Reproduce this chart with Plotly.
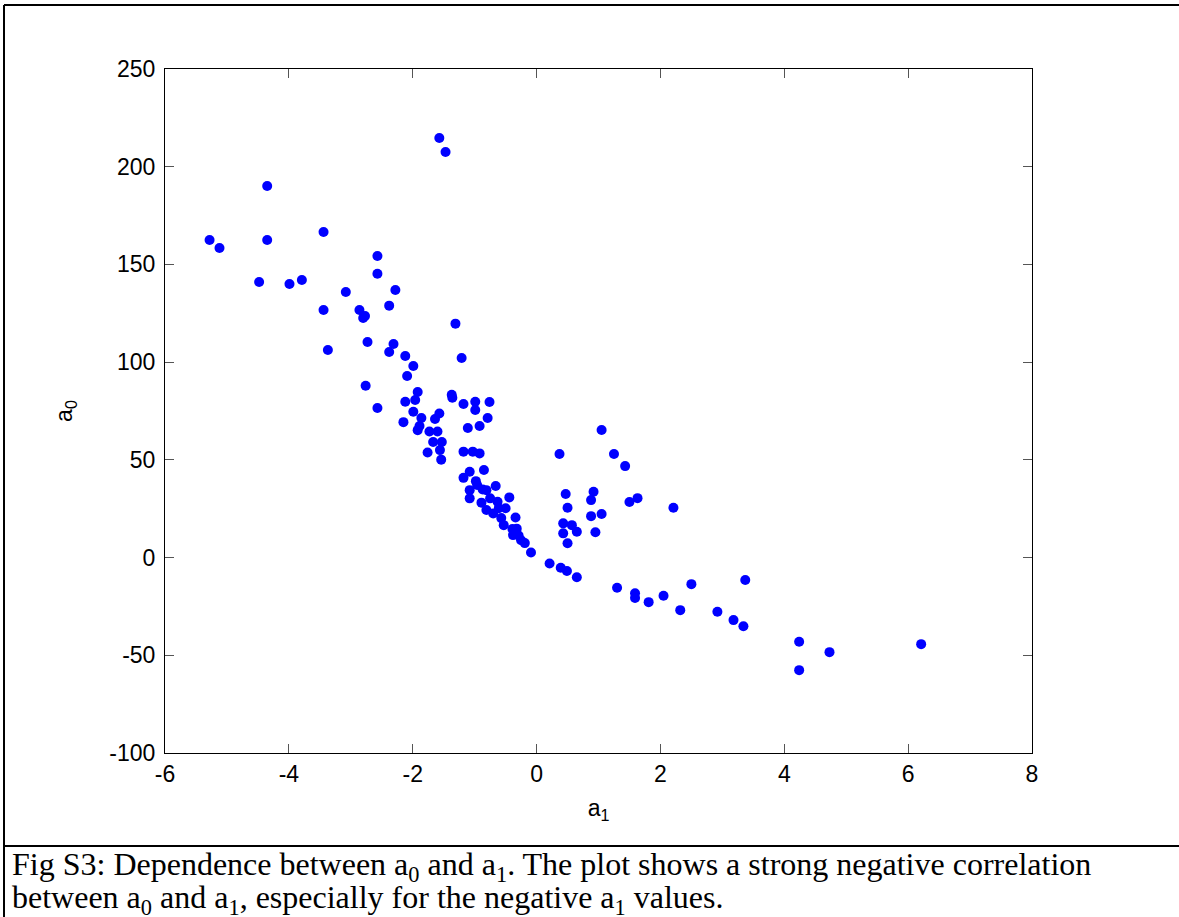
import plotly.graph_objects as go

# a1 (x) and a0 (y) values
a1 = [-5.28, -5.12, -4.35, -4.35, -4.48, -3.99, -3.79, -3.44, -3.44, -3.37,
      -3.08, -2.86, -2.77, -2.80, -2.73, -2.76, -2.57, -2.57, -2.57, -2.38,
      -2.28, -2.31, -2.38, -2.12, -1.99, -2.09, -1.92, -1.96, -2.12, -1.99,
      -2.15, -1.86, -1.89, -1.92, -1.73, -1.60, -1.57, -1.64, -1.67, -1.53,
      -1.56, -1.76, -1.54, -1.57, -1.47, -1.31, -1.21, -1.37, -1.36, -1.18,
      -0.99, -0.76, -0.99, -0.79, -1.11, -0.92, -1.18, -1.03, -0.92, -0.85,
      -1.08, -1.18, -0.98, -0.96, -0.66, -1.08, -0.87, -0.81, -1.08, -0.89,
      -0.75, -0.63, -0.44, -0.81, -0.70, -0.50, -0.61, -0.34, -0.57, -0.53,
      -0.39, -0.32, -0.38, -0.29, -0.25, -0.19, -0.09,
      0.21, 0.39, 0.49, 0.65, 0.37, 0.47, 0.50, 0.43, 0.57, 0.43,
      0.50, 0.65, 1.05, 1.25, 1.43, 0.92, 0.88, 1.50, 1.63, 2.21,
      0.88, 1.05, 0.95, 1.30, 1.59, 1.59, 1.81, 2.05, 2.50, 3.37,
      2.32, 2.92, 3.18, 3.34, 4.24, 4.73, 4.24, 6.21]
a0 = [162.5, 158.4, 190.1, 162.5, 141.0, 140.0, 142.0, 166.6, 126.7, 106.2,
      135.9, 126.7, 123.6, 122.6, 110.3, 87.9, 154.3, 145.2, 76.5, 128.9,
      136.9, 109.3, 105.2, 103.1, 98.0, 92.9, 84.7, 80.6, 79.7, 74.6,
      69.3, 71.4, 67.3, 65.2, 64.5, 64.5, 73.7, 70.9, 59.1, 59.1,
      55.0, 53.8, 50.1, 214.7, 207.5, 119.7, 102.1, 83.3, 81.8, 78.6,
      79.7, 79.6, 75.5, 71.4, 66.3, 67.3, 54.2, 54.2, 53.3, 44.8,
      43.9, 40.8, 39.1, 37.1, 36.6, 34.5, 34.8, 34.5, 30.3, 28.1,
      30.3, 28.6, 30.8, 24.3, 22.6, 25.2, 25.2, 20.5, 20.2, 16.6,
      14.6, 14.8, 11.5, 11.3, 8.9, 7.4, 2.6,
      -3.0, -5.2, -6.9, -10.1, 53.0, 32.5, 25.5, 17.5, 16.6, 12.4,
      7.3, 13.2, 65.3, 53.0, 46.8, 33.7, 29.4, 28.4, 30.4, 25.5,
      21.2, 22.3, 13.0, -15.4, -18.3, -20.7, -22.8, -19.5, -13.6, -11.5,
      -26.9, -27.7, -32.0, -35.1, -43.1, -48.4, -57.6, -44.3]

x_ticks = [-6, -4, -2, 0, 2, 4, 6, 8]
y_ticks = [-100, -50, 0, 50, 100, 150, 200, 250]

caption_line1 = ("Fig S3: Dependence between a<sub>0</sub> and a<sub>1</sub>. "
                 "The plot shows a strong negative correlation")
caption_line2 = ("between a<sub>0</sub> and a<sub>1</sub>, especially for the "
                 "negative a<sub>1</sub> values.")

W, H = 1179, 917
L, R, T, B = 165, 1032, 69, 753


def px(x):
    return (x - L) / (R - L)


def py(y):
    return (B - y) / (B - T)


fig = go.Figure()
fig.add_trace(go.Scatter(
    x=a1, y=a0, mode="markers",
    marker=dict(color="#0000ff", size=10, line=dict(width=0)),
    showlegend=False, hoverinfo="x+y"))

axis_font = dict(family="Liberation Sans, Arial, sans-serif", size=23, color="black")

fig.update_layout(
    width=W, height=H,
    margin=dict(l=L, r=W - R, t=T, b=H - B, pad=0),
    paper_bgcolor="white", plot_bgcolor="white",
    font=axis_font,
    xaxis=dict(range=[-6, 8], tickvals=x_ticks, ticktext=[str(v) for v in x_ticks],
               showgrid=False, zeroline=False, showline=True, linecolor="black",
               linewidth=1, mirror="ticks", ticks="inside", ticklen=9,
               tickcolor="#555555", tickfont=axis_font,
               title=dict(text="a<sub>1</sub>", font=axis_font, standoff=14)),
    yaxis=dict(range=[-100, 250], tickvals=y_ticks, ticktext=[str(v) for v in y_ticks],
               showgrid=False, zeroline=False, showline=True, linecolor="black",
               linewidth=1, mirror="ticks", ticks="inside", ticklen=9,
               tickcolor="#555555", tickfont=axis_font, ticklabelstandoff=4,
               title=dict(text="a<sub>0</sub>", font=axis_font, standoff=30)),
)

# outer frame lines
frame = dict(type="line", xref="paper", yref="paper",
             line=dict(color="black", width=2))
fig.add_shape(**frame, x0=px(4), x1=px(1179), y0=py(5), y1=py(5))
fig.add_shape(**frame, x0=px(4), x1=px(4), y0=py(5), y1=py(917))
fig.add_shape(**frame, x0=px(4), x1=px(1179), y0=py(846), y1=py(846))

cap_font = dict(family="Liberation Serif, Times New Roman, serif", size=32, color="black")
fig.add_annotation(text=caption_line1, xref="paper", yref="paper",
                   x=px(10), y=py(866), xanchor="left", yanchor="middle",
                   showarrow=False, font=cap_font)
fig.add_annotation(text=caption_line2, xref="paper", yref="paper",
                   x=px(10), y=py(899), xanchor="left", yanchor="middle",
                   showarrow=False, font=cap_font)

fig.write_html("out.html", config={"displayModeBar": False},
               post_script="document.body.style.margin='0';document.body.style.overflow='hidden';")
